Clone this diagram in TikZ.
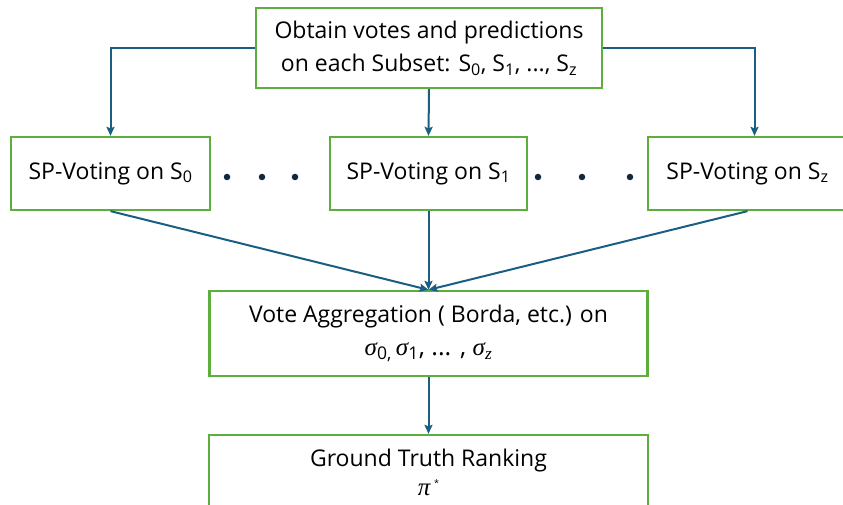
\documentclass[tikz,border=0pt]{standalone}
\usepackage{fontspec}
\setmainfont{Open Sans}
\newfontfamily\greekfont{Liberation Serif}
\usetikzlibrary{arrows.meta}
\definecolor{boxgreen}{HTML}{5DAE3C}
\definecolor{arrowblue}{HTML}{1A5E82}
\definecolor{dotnavy}{HTML}{0E2841}
\newcommand{\gsym}[1]{{\greekfont\itshape #1}}
\begin{document}
\begin{tikzpicture}[x=1pt,y=-1pt,
  stagebox/.style={draw=boxgreen,line width=2.3pt,fill=white,align=center,inner sep=2pt,font=\fontsize{23}{33}\selectfont},
  flow/.style={draw=arrowblue,line width=2pt,-{Stealth[length=9pt,width=8pt,inset=1.5pt]}},
  vdot/.style={circle,fill=dotnavy,inner sep=0pt,minimum size=6.5pt}]
\useasboundingbox (0,0) rectangle (843,505);
\clip (0,0) rectangle (843,505);
\node[stagebox,minimum width=346pt,minimum height=80pt] (top) at (429,48) {Obtain votes and predictions\\on each Subset: S\textsubscript{0}, S\textsubscript{1}, ..., S\textsubscript{z}};
\node[stagebox,minimum width=199pt,minimum height=73pt] (s0) at (110.5,173.5) {SP-Voting on S\textsubscript{0}};
\node[stagebox,minimum width=197pt,minimum height=73pt] (s1) at (428.5,173.5) {SP-Voting on S\textsubscript{1}};
\node[stagebox,minimum width=199pt,minimum height=73pt] (sz) at (747.5,173.5) {SP-Voting on S\textsubscript{z}};
\node[stagebox,minimum width=438pt,minimum height=85pt] (agg) at (428.5,333.5) {Vote Aggregation ( Borda, etc.) on\\{\fontsize{25}{33}\selectfont\gsym{σ}\textsubscript{0,}\,\gsym{σ}\textsubscript{1}, ... , \gsym{σ}\textsubscript{\gsym{z}}}};
\node[stagebox,minimum width=439pt,minimum height=74pt] (gt) at (428.5,472) {Ground Truth Ranking\\[-4pt]{\fontsize{25}{33}\selectfont\gsym{π}}\,\raisebox{0.7ex}{\small *}};
\node[vdot] (d1) at (227,177) {};
\node[vdot] (d2) at (262,177) {};
\node[vdot] (d3) at (295,177) {};
\node[vdot] (d4) at (538,177) {};
\node[vdot] (d5) at (582,177) {};
\node[vdot] (d6) at (630,177) {};
\draw[flow] (top.west) -| (s0.north);
\draw[flow] (top.east) -| ([xshift=7pt]sz.north);
\draw[flow] (top.south) -- (s1.north);
\draw[flow] (s0.south) -- (agg.north);
\draw[flow] (s1.south) -- (agg.north);
\draw[flow] (sz.south) -- (agg.north);
\draw[flow] (agg.south) -- (gt.north);
\end{tikzpicture}
\end{document}
